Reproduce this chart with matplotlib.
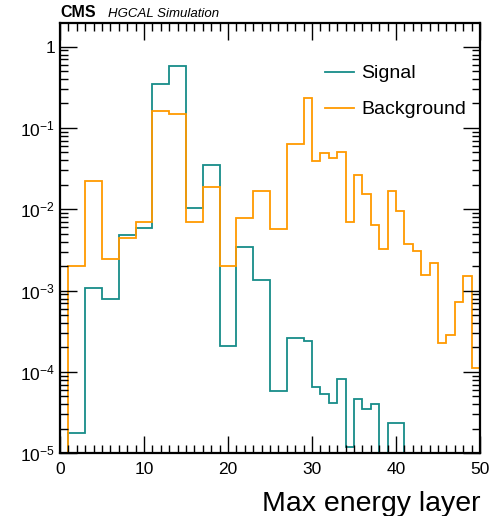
import numpy as np
import matplotlib
matplotlib.use("Agg")
import matplotlib.pyplot as plt
from matplotlib.ticker import FuncFormatter, MultipleLocator, LogLocator

# Bin edges (layers); paired bins in the front part, single layers afterwards
edges = [1, 3, 5, 7, 9, 11, 13, 15, 17, 19, 21, 23, 25, 27, 29,
         30, 31, 32, 33, 34, 35, 36, 37, 38, 39, 40, 41, 42, 43, 44,
         45, 46, 47, 48, 49, 50]

signal = [1.76e-5, 1.08e-3, 7.9e-4, 4.8e-3, 5.9e-3, 0.348, 0.578, 0.0103,
          0.0354, 2.07e-4, 3.44e-3, 1.37e-3, 5.9e-5, 2.62e-4,
          2.43e-4, 6.5e-5, 5.3e-5, 4.2e-5, 8.2e-5, 1.19e-5, 4.66e-5, 3.54e-5,
          4.08e-5, 0.0, 2.34e-5, 2.34e-5, 0.0, 0.0, 0.0, 0.0,
          0.0, 0.0, 0.0, 0.0, 0.0]

background = [2.0e-3, 0.0225, 2.47e-3, 4.5e-3, 6.9e-3, 0.163, 0.149, 6.9e-3,
              0.0186, 2.0e-3, 7.9e-3, 0.017, 5.8e-3, 0.063,
              0.232, 0.0397, 0.0497, 0.0432, 0.0512, 6.98e-3, 0.0264, 0.0154,
              6.4e-3, 3.25e-3, 0.0168, 9.45e-3, 3.75e-3, 3.1e-3, 1.57e-3, 2.19e-3,
              2.25e-4, 2.83e-4, 7.3e-4, 1.53e-3, 1.12e-4]

labels = ["Signal", "Background"]
colors = ["#178c89", "#ff9a00"]

plt.rcParams['font.family'] = ['Liberation Sans', 'DejaVu Sans']
plt.rcParams['mathtext.fontset'] = 'custom'
plt.rcParams['mathtext.rm'] = 'Liberation Sans'
plt.rcParams['mathtext.it'] = 'Liberation Sans:italic'

fig = plt.figure(figsize=(5.0, 5.16), dpi=100)
ax = fig.add_axes([0.12, 0.1215, 0.84, 0.8335])

tiny = 1e-12
for vals, lab, col in zip([signal, background], labels, colors):
    v = np.asarray(vals, dtype=float)
    v = np.where(v > 0, v, tiny)
    ax.stairs(v, edges, baseline=tiny, color=col, lw=1.3, label=lab)

ax.set_yscale('log')
ax.set_xlim(0, 50)
ax.set_ylim(1e-5, 1.94)

ax.xaxis.set_major_locator(MultipleLocator(10))
ax.xaxis.set_minor_locator(MultipleLocator(1))
ax.yaxis.set_major_locator(LogLocator(base=10, numticks=20))
ax.yaxis.set_minor_locator(LogLocator(base=10, subs=np.arange(2, 10), numticks=20))

def yfmt(v, pos):
    e = int(round(np.log10(v)))
    if e == 0:
        return "1"
    return r"$10^{%d}$" % e
ax.yaxis.set_major_formatter(FuncFormatter(yfmt))

ax.tick_params(which='both', direction='in', top=True, right=True, width=1.0,
               labelsize=12.5)
ax.tick_params(which='major', length=12)
ax.tick_params(which='minor', length=6)
ax.tick_params(axis='x', which='major', pad=6)
for s in ax.spines.values():
    s.set_linewidth(1.6)

ax.set_xlabel("Max energy layer", fontsize=20.5, loc='right', labelpad=10)

ax.text(0.0, 1.008, "CMS", transform=ax.transAxes, fontsize=11.5,
        fontweight='bold', ha='left', va='bottom')
ax.text(0.115, 1.008, "HGCAL Simulation", transform=ax.transAxes, fontsize=9.5,
        style='italic', ha='left', va='bottom')

leg = ax.legend(loc='upper right', bbox_to_anchor=(1.0, 0.935), frameon=False,
                fontsize=14, handlelength=1.5, handletextpad=0.4,
                labelspacing=0.95, borderaxespad=0.3)

fig.savefig("out.png", dpi=100)
